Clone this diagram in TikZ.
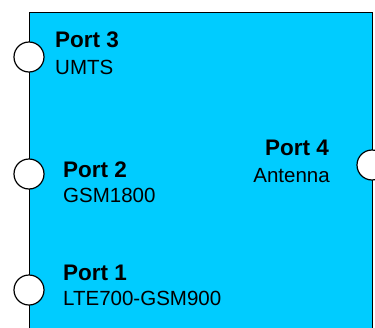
\documentclass[tikz,border=0pt]{standalone}
\usepackage{fontspec}
\setmainfont{Liberation Sans}
\usetikzlibrary{positioning}
\definecolor{filtcyan}{RGB}{0,204,255}
\tikzset{
  filtbox/.style={rectangle,draw=black,fill=filtcyan,line width=1.3pt,
    anchor=north west,minimum width=343pt,minimum height=330pt,inner sep=0pt},
  port/.style={circle,draw=black,fill=white,line width=1.2pt,minimum size=30pt,inner sep=0pt},
  portname/.style={font=\fontsize{22.5}{24}\selectfont\bfseries,inner sep=0pt},
  portband/.style={font=\fontsize{20.5}{24}\selectfont,inner sep=0pt}
}
\begin{document}
\begin{tikzpicture}[x=1pt,y=-1pt]
  \useasboundingbox (0,0) rectangle (375,327);
  \clip (0,0) rectangle (375,327);
  \node[filtbox] (filt) at (29,12) {};
  % ports on the left
  \node[port] (p3) at (29,57) {};
  \node[port] (p2) at (29,174) {};
  \node[port] (p1) at (29,290) {};
  % port on the right
  \node[port] (p4) at (372,165) {};

  \node[portname, anchor=base west] (n3) at (55,47) {Port 3};
  \node[portband, anchor=base west] (b3) at (55,74) {UMTS};
  \node[portname, anchor=base west] (n2) at (63,177) {Port 2};
  \node[portband, anchor=base west] (b2) at (63,202) {GSM1800};
  \node[portname, anchor=base west] (n1) at (63,280) {Port 1};
  \node[portband, anchor=base west] (b1) at (63,305) {LTE700-GSM900};
  \node[portname, anchor=base east] (n4) at (329,155) {Port 4};
  \node[portband, anchor=base east] (b4) at (330,182) {Antenna};
\end{tikzpicture}
\end{document}
